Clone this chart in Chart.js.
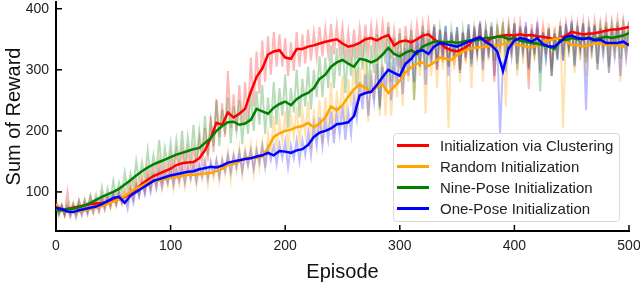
<!DOCTYPE html>
<html>
<head>
<meta charset="utf-8">
<script src="https://cdn.jsdelivr.net/npm/chart.js@4.4.1/dist/chart.umd.min.js"></script>
<style>
  html, body { margin: 0; padding: 0; background: #fff; }
  #wrap { position: relative; width: 640px; height: 284px; }
  #legend {
    position: absolute; left: 393px; top: 133px; width: 227px; height: 89px;
    box-sizing: border-box; border: 1px solid #d9d9d9; border-radius: 4px;
    background: rgba(255, 255, 255, 0.8); padding: 1px 0 0 3px;
    font-family: "Liberation Sans", Arial, sans-serif; font-size: 15px; color: #222;
  }
  .row { display: flex; align-items: center; height: 21px; white-space: nowrap; }
  .swatch { width: 32px; height: 2.5px; margin-right: 11px; }
</style>
</head>
<body>
<div id="wrap">
  <canvas id="chart" width="640" height="284"></canvas>
  <div id="legend"></div>
</div>
<script>
// episodes (x values, every 5 episodes) and the in-between episodes for raw data
const episodes = [
  0, 5, 10, 15, 20, 25, 30, 35, 40, 45,
  50, 55, 60, 65, 70, 75, 80, 85, 90, 95,
  100, 105, 110, 115, 120, 125, 130, 135, 140, 145,
  150, 155, 160, 165, 170, 175, 180, 185, 190, 195,
  200, 205, 210, 215, 220, 225, 230, 235, 240, 245,
  250, 255, 260, 265, 270, 275, 280, 285, 290, 295,
  300, 305, 310, 315, 320, 325, 330, 335, 340, 345,
  350, 355, 360, 365, 370, 375, 380, 385, 390, 395,
  400, 405, 410, 415, 420, 425, 430, 435, 440, 445,
  450, 455, 460, 465, 470, 475, 480, 485, 490, 495,
  500
];
const midEpisodes = [
  2.5, 7.5, 12.5, 17.5, 22.5, 27.5, 32.5, 37.5, 42.5, 47.5,
  52.5, 57.5, 62.5, 67.5, 72.5, 77.5, 82.5, 87.5, 92.5, 97.5,
  102.5, 107.5, 112.5, 117.5, 122.5, 127.5, 132.5, 137.5, 142.5, 147.5,
  152.5, 157.5, 162.5, 167.5, 172.5, 177.5, 182.5, 187.5, 192.5, 197.5,
  202.5, 207.5, 212.5, 217.5, 222.5, 227.5, 232.5, 237.5, 242.5, 247.5,
  252.5, 257.5, 262.5, 267.5, 272.5, 277.5, 282.5, 287.5, 292.5, 297.5,
  302.5, 307.5, 312.5, 317.5, 322.5, 327.5, 332.5, 337.5, 342.5, 347.5,
  352.5, 357.5, 362.5, 367.5, 372.5, 377.5, 382.5, 387.5, 392.5, 397.5,
  402.5, 407.5, 412.5, 417.5, 422.5, 427.5, 432.5, 437.5, 442.5, 447.5,
  452.5, 457.5, 462.5, 467.5, 472.5, 477.5, 482.5, 487.5, 492.5, 497.5
];

// smoothed curves
const clusterSmooth = [
  72, 70, 72, 74, 76, 78, 80, 81, 82, 84,
  86, 88, 92, 98, 105, 113, 120, 126, 130, 134,
  138, 144, 147, 148, 149, 155, 168, 188, 213, 210,
  230, 222, 228, 236, 264, 288, 302, 325, 330, 332,
  320, 318, 334, 334, 338, 340, 343, 346, 348, 350,
  343, 338, 340, 344, 350, 352, 348, 353, 357, 340,
  346, 348, 345, 350, 356, 358, 350, 344, 336, 332,
  330, 334, 340, 350, 354, 345, 352, 354, 356, 357,
  356, 358, 356, 357, 355, 354, 352, 350, 352, 356,
  362, 360, 358, 359, 360, 362, 364, 366, 366, 368,
  370
];
const randomSmooth = [
  80, 72, 68, 67, 68, 70, 72, 74, 77, 80,
  84, 88, 93, 100, 106, 110, 115, 117, 119, 121,
  123, 124, 126, 128, 128, 129, 130, 131, 134, 138,
  144, 146, 150, 154, 157, 156, 158, 172, 190, 196,
  200, 202, 206, 208, 213, 206, 212, 222, 240, 234,
  242, 256, 268, 276, 270, 264, 272, 276, 262, 272,
  282, 296, 304, 310, 312, 306, 312, 320, 318, 316,
  324, 330, 334, 336, 337, 338, 338, 340, 342, 344,
  342, 340, 338, 336, 340, 346, 348, 350, 352, 346,
  341, 340, 338, 340, 344, 343, 341, 341, 340, 338,
  345
];
const ninePoseSmooth = [
  70, 70, 72, 73, 75, 78, 82, 87, 92, 96,
  100, 105, 112, 119, 127, 134, 140, 145, 149, 153,
  157, 161, 164, 167, 170, 172, 180, 188, 200, 208,
  214, 215, 210, 212, 218, 236, 232, 228, 238, 244,
  248, 242, 252, 258, 262, 270, 285, 292, 305, 312,
  316, 310, 305, 318, 316, 312, 316, 325, 336, 326,
  322, 328, 332, 326, 338, 342, 346, 346, 345, 346,
  344, 346, 348, 348, 350, 352, 352, 354, 354, 350,
  352, 348, 346, 344, 343, 340, 338, 334, 348, 349,
  352, 350, 352, 352, 350, 352, 354, 352, 354, 356,
  360
];
const onePoseSmooth = [
  74, 72, 68, 67, 70, 72, 74, 76, 80, 85,
  90, 92, 82, 94, 100, 106, 112, 118, 121, 124,
  127, 129, 131, 133, 134, 137, 139, 141, 140, 143,
  148, 150, 152, 154, 155, 158, 160, 164, 160, 167,
  166, 164, 168, 170, 177, 190, 197, 200, 204, 211,
  212, 214, 224, 258, 262, 264, 275, 288, 300, 295,
  290, 310, 318, 330, 332, 326, 338, 344, 342, 340,
  338, 342, 346, 350, 353, 346, 340, 330, 298, 335,
  348, 352, 350, 346, 352, 342, 338, 338, 346, 354,
  356, 352, 350, 352, 348, 349, 344, 344, 344, 346,
  340
];

// raw rewards: values at the 5-step episodes ...
const clusterRawA = [
  80, 78, 100, 82, 86, 88, 92, 88, 95, 94,
  98, 100, 104, 112, 120, 126, 138, 140, 150, 148,
  158, 165, 170, 168, 172, 185, 205, 225, 252, 245,
  298, 260, 275, 280, 320, 330, 348, 355, 362, 358,
  352, 345, 362, 358, 366, 362, 370, 368, 375, 372,
  370, 362, 366, 368, 374, 372, 372, 376, 378, 365,
  368, 372, 368, 374, 376, 378, 372, 366, 362, 358,
  358, 360, 366, 372, 376, 368, 370, 374, 374, 376,
  376, 378, 372, 375, 374, 372, 370, 368, 372, 376,
  378, 376, 378, 376, 380, 378, 382, 380, 384, 382,
  380
];
const randomRawA = [
  88, 78, 76, 74, 75, 78, 80, 82, 86, 88,
  94, 98, 104, 112, 118, 122, 130, 128, 135, 132,
  140, 136, 142, 140, 145, 140, 148, 145, 152, 155,
  165, 162, 172, 170, 178, 175, 182, 195, 225, 218,
  232, 225, 240, 232, 248, 235, 250, 255, 280, 265,
  290, 285, 310, 305, 318, 300, 325, 310, 312, 305,
  330, 330, 350, 340, 355, 345, 358, 350, 362, 350,
  365, 360, 368, 362, 370, 365, 370, 366, 372, 368,
  374, 365, 368, 360, 372, 370, 376, 372, 378, 368,
  372, 362, 370, 360, 374, 366, 372, 365, 370, 362,
  372
];
const ninePoseRawA = [
  78, 76, 82, 80, 86, 86, 94, 96, 108, 106,
  118, 115, 132, 130, 150, 148, 168, 160, 185, 172,
  180, 185, 200, 190, 210, 200, 225, 215, 250, 235,
  255, 240, 250, 235, 262, 265, 275, 255, 280, 270,
  292, 270, 300, 285, 305, 300, 322, 320, 340, 335,
  350, 335, 345, 345, 355, 340, 358, 350, 370, 352,
  360, 355, 365, 350, 372, 365, 375, 368, 372, 366,
  370, 366, 374, 368, 376, 370, 378, 372, 378, 368,
  376, 368, 370, 364, 368, 360, 366, 358, 372, 368,
  376, 368, 376, 370, 374, 370, 378, 372, 378, 374,
  378
];
const onePoseRawA = [
  80, 78, 74, 74, 76, 78, 80, 82, 88, 92,
  98, 100, 90, 102, 110, 115, 122, 126, 132, 132,
  138, 138, 142, 142, 146, 146, 150, 150, 152, 152,
  160, 160, 165, 164, 168, 168, 175, 172, 176, 178,
  182, 176, 185, 185, 198, 210, 222, 218, 232, 230,
  240, 232, 255, 280, 292, 285, 310, 305, 335, 320,
  330, 335, 350, 355, 362, 350, 370, 365, 372, 362,
  370, 362, 375, 368, 380, 366, 372, 350, 310, 360,
  376, 372, 378, 368, 378, 362, 368, 360, 372, 375,
  380, 372, 376, 370, 372, 368, 370, 364, 372, 366,
  365
];

// ... and at the in-between episodes
const clusterRawB = [
  64, 62, 66, 68, 70, 72, 74, 75, 76, 78,
  80, 82, 84, 90, 96, 102, 110, 116, 120, 124,
  128, 132, 135, 138, 140, 142, 150, 165, 190, 190,
  205, 200, 210, 215, 240, 260, 280, 292, 305, 305,
  290, 298, 305, 310, 315, 320, 322, 326, 325, 330,
  315, 318, 318, 325, 328, 330, 330, 335, 318, 322,
  300, 325, 322, 335, 335, 330, 300, 312, 305, 308,
  300, 315, 318, 330, 325, 330, 280, 335, 330, 338,
  335, 340, 268, 334, 328, 335, 300, 330, 330, 338,
  335, 340, 320, 342, 340, 345, 338, 348, 345, 350
];
const randomRawB = [
  62, 60, 58, 60, 62, 62, 64, 66, 70, 72,
  76, 80, 86, 90, 96, 100, 102, 106, 104, 110,
  105, 112, 108, 118, 110, 120, 112, 122, 118, 128,
  120, 135, 128, 142, 130, 140, 140, 165, 165, 182,
  168, 190, 175, 195, 170, 195, 180, 205, 195, 220,
  205, 240, 225, 255, 215, 250, 225, 225, 225, 255,
  240, 280, 250, 290, 228, 290, 270, 300, 205, 300,
  280, 310, 270, 320, 280, 315, 290, 315, 240, 320,
  290, 310, 285, 315, 300, 325, 290, 330, 205, 320,
  295, 315, 290, 318, 300, 320, 295, 318, 280, 320
];
const ninePoseRawB = [
  62, 64, 66, 66, 70, 70, 76, 78, 84, 86,
  92, 96, 102, 108, 118, 122, 125, 132, 135, 142,
  140, 148, 145, 155, 150, 160, 160, 175, 175, 195,
  180, 200, 178, 195, 200, 210, 195, 205, 210, 225,
  205, 230, 222, 240, 235, 255, 255, 270, 270, 290,
  262, 290, 270, 300, 262, 295, 235, 310, 280, 305,
  285, 310, 250, 315, 300, 325, 310, 330, 305, 330,
  300, 330, 310, 332, 315, 335, 315, 338, 310, 332,
  300, 330, 305, 325, 265, 318, 290, 315, 315, 335,
  308, 335, 312, 335, 310, 338, 305, 338, 318, 340
];
const onePoseRawB = [
  66, 62, 60, 58, 62, 64, 66, 68, 72, 76,
  80, 82, 72, 82, 92, 96, 100, 106, 108, 114,
  112, 118, 115, 122, 118, 126, 122, 130, 125, 134,
  132, 140, 134, 144, 138, 148, 140, 152, 145, 155,
  140, 155, 150, 160, 160, 175, 175, 185, 180, 195,
  185, 195, 220, 235, 225, 248, 240, 265, 250, 275,
  260, 290, 280, 305, 275, 310, 300, 320, 290, 318,
  295, 320, 305, 328, 300, 320, 290, 195, 300, 322,
  310, 330, 300, 325, 295, 320, 290, 318, 315, 335,
  305, 330, 234, 330, 300, 325, 295, 322, 290, 320
];

const seriesNames = ['Initialization via Clustering', 'Random Initialization', 'Nine-Pose Initialization', 'One-Pose Initialization'];
const seriesColors = ['#ff0000', '#ffa500', '#008000', '#0000ff'];
const rawColors = ['rgba(255,0,0,0.28)', 'rgba(255,165,0,0.32)', 'rgba(0,128,0,0.28)', 'rgba(0,0,255,0.26)'];
const xTicks = [0, 100, 200, 300, 400, 500];
const yTicks = [100, 200, 300, 400];

const smoothSets = [clusterSmooth, randomSmooth, ninePoseSmooth, onePoseSmooth];
const rawSetsA = [clusterRawA, randomRawA, ninePoseRawA, onePoseRawA];
const rawSetsB = [clusterRawB, randomRawB, ninePoseRawB, onePoseRawB];

function toPoints(values) {
  return values.map((v, i) => ({ x: episodes[i], y: v }));
}

function rawPoints(a, b) {
  const pts = [];
  a.forEach((v, i) => {
    pts.push({ x: episodes[i], y: v });
    if (i < b.length) pts.push({ x: midEpisodes[i], y: b[i] });
  });
  return pts;
}

const datasets = [];
rawSetsA.forEach((vals, i) => {
  datasets.push({
    label: seriesNames[i] + ' (raw)',
    data: rawPoints(vals, rawSetsB[i]),
    borderColor: rawColors[i],
    borderWidth: 2,
    pointRadius: 0,
    order: 8 - i
  });
});
smoothSets.forEach((vals, i) => {
  datasets.push({
    label: seriesNames[i],
    data: toPoints(vals),
    borderColor: seriesColors[i],
    borderWidth: 2.5,
    pointRadius: 0,
    order: 4 - i
  });
});

// matplotlib style ticks pointing into the plot
const inwardTicks = {
  id: 'inwardTicks',
  afterDatasetsDraw(chart) {
    const { ctx, chartArea, scales } = chart;
    ctx.save();
    ctx.strokeStyle = '#000';
    ctx.lineWidth = 1.5;
    xTicks.forEach(v => {
      const px = scales.x.getPixelForValue(v);
      ctx.beginPath();
      ctx.moveTo(px, chartArea.bottom);
      ctx.lineTo(px, chartArea.bottom - 6);
      ctx.stroke();
    });
    yTicks.forEach(v => {
      const py = scales.y.getPixelForValue(v);
      ctx.beginPath();
      ctx.moveTo(chartArea.left, py);
      ctx.lineTo(chartArea.left + 6, py);
      ctx.stroke();
    });
    ctx.restore();
  }
};

Chart.defaults.font.family = '"Liberation Sans", Arial, sans-serif';

new Chart(document.getElementById('chart'), {
  type: 'line',
  data: { datasets: datasets },
  plugins: [inwardTicks],
  options: {
    responsive: false,
    animation: false,
    layout: { padding: { top: 2, right: 11, left: 0, bottom: 0 } },
    elements: { line: { tension: 0 } },
    plugins: {
      legend: { display: false },
      tooltip: { enabled: false }
    },
    scales: {
      x: {
        type: 'linear',
        min: 0,
        max: 500,
        afterBuildTicks: s => { s.ticks = xTicks.map(v => ({ value: v })); },
        afterFit: s => { s.height = 53; s.paddingLeft = 0; s.paddingRight = 0; },
        grid: { display: false, drawTicks: false },
        border: { display: true, color: '#000', width: 2 },
        ticks: { color: '#222', font: { size: 14 }, padding: 7, maxRotation: 0 },
        title: { display: true, text: 'Episode', color: '#111', font: { size: 20 }, padding: { top: 0, bottom: 0 } }
      },
      y: {
        min: 36,
        max: 411,
        afterBuildTicks: s => { s.ticks = yTicks.map(v => ({ value: v })); },
        afterFit: s => { s.width = 56; s.paddingTop = 0; s.paddingBottom = 0; },
        grid: { display: false, drawTicks: false },
        border: { display: true, color: '#000', width: 2 },
        ticks: { color: '#222', font: { size: 14 }, padding: 7 },
        title: { display: true, text: 'Sum of Reward', color: '#111', font: { size: 20 }, padding: { top: 2, bottom: 0 } }
      }
    }
  }
});

// legend inside the axes, lower right
const legend = document.getElementById('legend');
seriesNames.forEach((name, i) => {
  const row = document.createElement('div');
  row.className = 'row';
  const sw = document.createElement('span');
  sw.className = 'swatch';
  sw.style.background = seriesColors[i];
  const txt = document.createElement('span');
  txt.textContent = name;
  row.appendChild(sw);
  row.appendChild(txt);
  legend.appendChild(row);
});
</script>
</body>
</html>
